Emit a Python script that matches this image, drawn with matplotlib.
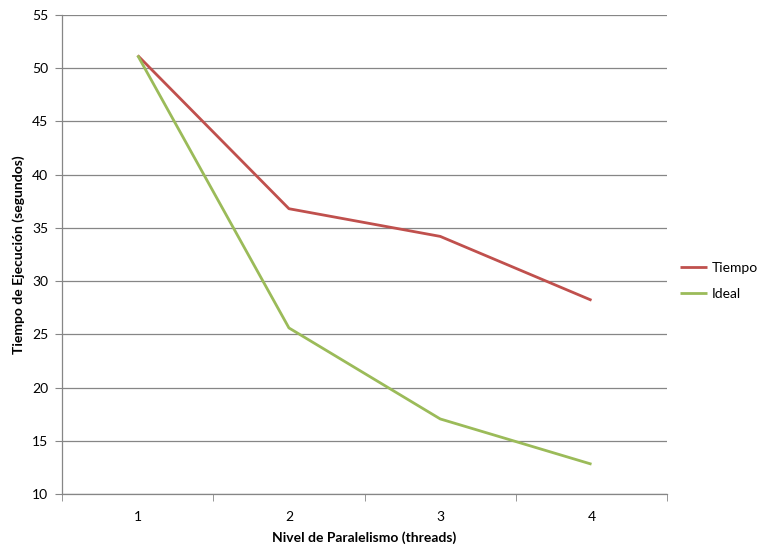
import matplotlib.pyplot as plt

# data
threads = ['1', '2', '3', '4']
tiempo = [51.2, 36.8, 34.2, 28.2]
ideal = [51.2, 25.6, 17.05, 12.8]

plt.rcParams['font.family'] = ['Lato', 'DejaVu Sans']

fig = plt.figure(figsize=(7.59, 5.49), dpi=100)
ax = fig.add_axes([0.0817, 0.1002, 0.7973, 0.8725])

x = list(range(len(threads)))
ax.plot(x, tiempo, color='#C0504D', lw=2.0, label='Tiempo', solid_capstyle='butt')
ax.plot(x, ideal, color='#9BBB59', lw=2.0, label='Ideal', solid_capstyle='butt')

ax.set_xlim(-0.5, len(threads) - 0.5)
ax.set_ylim(10, 55)
ax.set_yticks(range(10, 56, 5))
ax.set_xticks(x)
ax.set_xticklabels(threads)
# tick marks sit between categories, like excel
ax.set_xticks([i - 0.5 for i in range(len(threads) + 1)], minor=True)
ax.tick_params(axis='x', which='major', length=0, pad=12, labelsize=10, colors='black')
ax.tick_params(axis='x', which='minor', length=5, color='#868686', direction='out')
ax.tick_params(axis='y', length=5, color='#868686', labelsize=10, pad=5)

ax.grid(axis='y', color='#868686', lw=0.9)
ax.set_axisbelow(True)
for s in ['top', 'right']:
    ax.spines[s].set_visible(False)
for s in ['left', 'bottom']:
    ax.spines[s].set_color('#868686')
    ax.spines[s].set_linewidth(0.9)

ax.set_xlabel('Nivel de Paralelismo (threads)', fontsize=10, fontweight='bold', labelpad=6)
ax.set_ylabel('Tiempo de Ejecución (segundos)', fontsize=10, fontweight='bold', labelpad=5)

ax.legend(loc='center left', bbox_to_anchor=(1.0, 0.445), frameon=False,
          fontsize=10, handlelength=2.0, handletextpad=0.3, labelspacing=1.0)

fig.savefig('out.png', dpi=100)
